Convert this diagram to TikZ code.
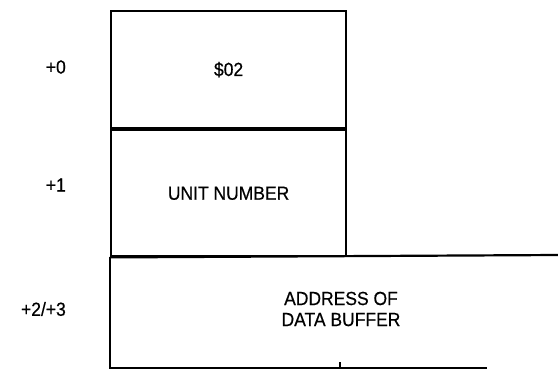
\documentclass[tikz,border=0pt]{standalone}
\usepackage{fontspec}
\setmainfont{Liberation Sans}[FakeStretch=0.92,FakeBold=0.5]
\begin{document}
\begin{tikzpicture}[x=1pt,y=-1pt,every node/.style={font=\fontsize{19}{21}\selectfont,inner sep=0pt}]
\tikzset{cell/.style={draw,line width=2.2pt,anchor=north west,minimum width=235pt},
  offs/.style={anchor=east}}
\useasboundingbox (0,0) rectangle (558,373);
% byte cells
\node[cell,minimum height=117pt] (byte0) at (110,10) {\$02};
\node[cell,minimum height=126pt] (byte1) at (byte0.south west) {UNIT NUMBER};
% open-ended buffer field
\coordinate (bufR) at (558,255);
\coordinate (bufBL) at (110,368);
\coordinate (bufBR) at (487,368);
\draw[line width=2.2pt] (byte1.south west) -- (bufR);
\draw[line width=2.2pt] (byte1.south west) -- (bufBL) -- (bufBR);
\coordinate (tick) at (340,368);
\draw[line width=2.2pt] (tick) -- ++(0,-6);
\node[align=center] (buf) at (341,309) {ADDRESS OF\\DATA BUFFER};
% offsets
\foreach \n/\y/\lab in {0/67/{+0}, 1/185/{+1}, 2/309/{+2/+3}}{
  \node[offs] (off\n) at (66,\y) {\lab};
}
\end{tikzpicture}
\end{document}
